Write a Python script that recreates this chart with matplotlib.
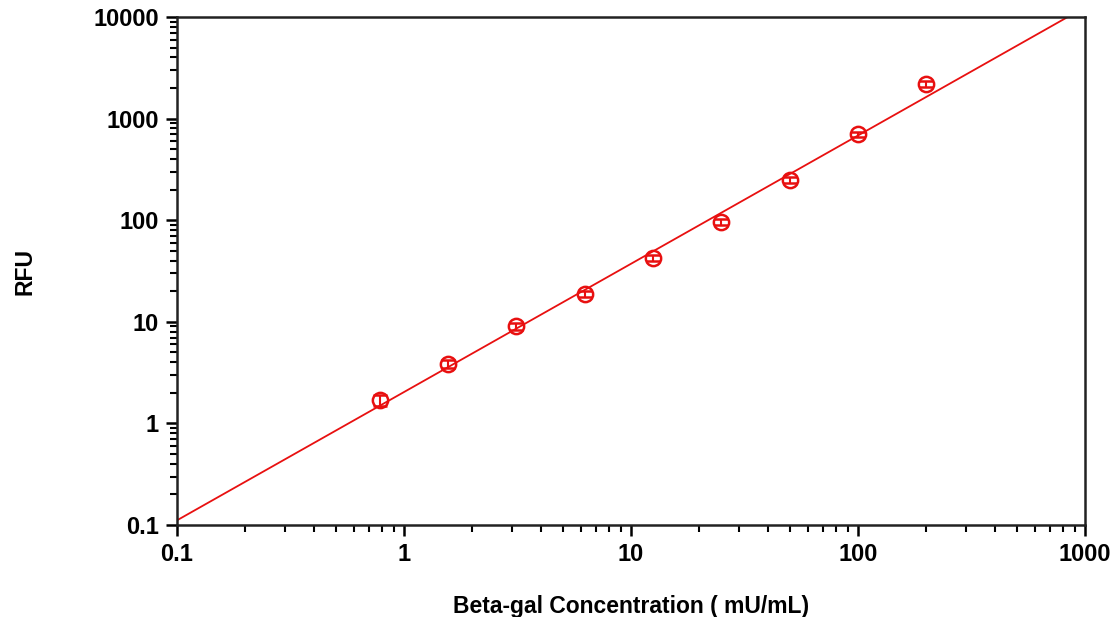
import numpy as np
import matplotlib.pyplot as plt
from matplotlib.ticker import LogLocator, FixedLocator, FixedFormatter, NullFormatter

plt.rcParams['font.family'] = ['Liberation Sans', 'DejaVu Sans']
plt.rcParams['font.weight'] = 'bold'

# Beta-gal standard curve (two-fold dilutions)
conc = [0.78, 1.56, 3.125, 6.25, 12.5, 25, 50, 100, 200]
rfu = [1.7, 3.85, 9.1, 18.8, 42.5, 96, 249, 705, 2190]
rfu_err = [0.2, 0.35, 0.7, 1.3, 3, 6, 15, 40, 130]

xticks = [0.1, 1, 10, 100, 1000]
xtick_labels = ['0.1', '1', '10', '100', '1000']
yticks = [0.1, 1, 10, 100, 1000, 10000]
ytick_labels = ['0.1', '1', '10', '100', '1000', '10000']

red = '#e81010'

fig = plt.figure(figsize=(11.13, 6.17), dpi=100)
ax = fig.add_axes([0.159, 0.149, 0.816, 0.8235])

# log-log linear fit
b, a = np.polyfit(np.log10(conc), np.log10(rfu), 1)
xf = np.logspace(-1, 3, 200)
ax.plot(xf, 10 ** (a + b * np.log10(xf)), color=red, lw=1.3, zorder=2)

ax.errorbar(conc, rfu, yerr=rfu_err, fmt='o', ms=11, mfc='none', mec=red,
            mew=1.8, ecolor=red, elinewidth=1.5, capsize=5, capthick=1.5, zorder=3)

ax.set_xscale('log')
ax.set_yscale('log')
ax.set_xlim(0.1, 1000)
ax.set_ylim(0.1, 10000)

ax.xaxis.set_major_locator(FixedLocator(xticks))
ax.xaxis.set_major_formatter(FixedFormatter(xtick_labels))
ax.yaxis.set_major_locator(FixedLocator(yticks))
ax.yaxis.set_major_formatter(FixedFormatter(ytick_labels))
ax.xaxis.set_minor_locator(LogLocator(base=10, subs=np.arange(2, 10)))
ax.yaxis.set_minor_locator(LogLocator(base=10, subs=np.arange(2, 10)))
ax.xaxis.set_minor_formatter(NullFormatter())
ax.yaxis.set_minor_formatter(NullFormatter())

for s in ax.spines.values():
    s.set_linewidth(1.8)
    s.set_color('#222222')

ax.tick_params(which='major', direction='out', length=8, width=1.8,
               labelsize=17, pad=5, top=False, right=False)
ax.tick_params(which='minor', direction='out', length=5, width=1.5,
               top=False, right=False)

ax.set_xlabel('Beta-gal Concentration ( mU/mL)', fontsize=16.5, fontweight='bold')
ax.set_ylabel('RFU', fontsize=16.5, fontweight='bold')
ax.xaxis.set_label_coords(0.5, -0.138)
ax.yaxis.set_label_coords(-0.155, 0.5)

fig.savefig('out.png', dpi=100)
